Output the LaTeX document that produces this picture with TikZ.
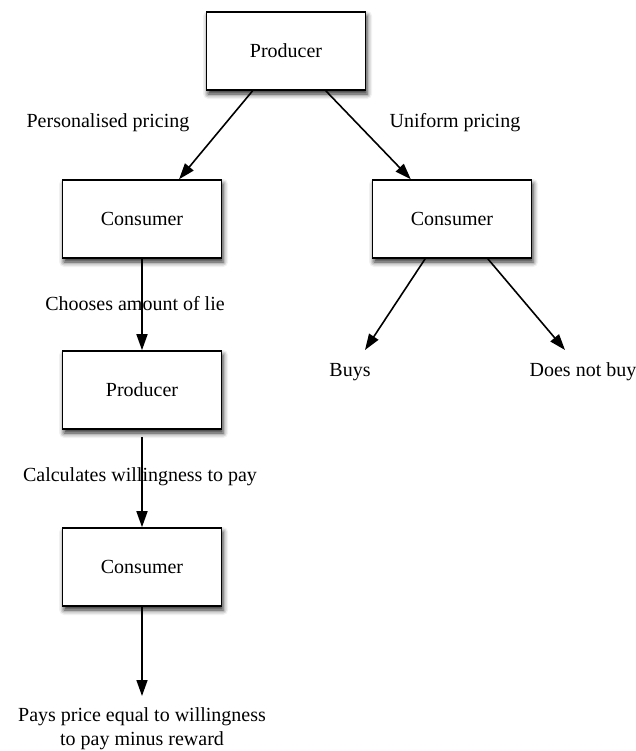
\documentclass[tikz,border=0pt]{standalone}
\usepackage{fontspec}
\setmainfont{Liberation Serif}
\usetikzlibrary{arrows.meta,shadows.blur}

\begin{document}
\begin{tikzpicture}[x=0.5pt,y=-0.5pt,
        agent/.style={draw,line width=0.8pt,fill=white,minimum width=79.5pt,minimum height=39pt,
            blur shadow={shadow xshift=0.8pt,shadow yshift=-2pt,shadow blur radius=2.5pt,shadow opacity=85}},
        move/.style={line width=0.8pt,-{Triangle[length=8pt,width=5.5pt]}}]
                \useasboundingbox (0,0) rectangle (636,751);

                \node[agent] (prodA) at (286,51) {Producer};
                \node[agent] (consA) at (142,219) {Consumer};
                \node[agent] (consB) at (452,219) {Consumer};
                \node[agent] (prodB) at (142,390) {Producer};
                \node[agent] (consC) at (142,567) {Consumer};

                \node (personal) at (108,123) {Personalised pricing};
                \node (uniform) at (455,123) {Uniform pricing};
                \node (buys) at (350,372) {Buys};
                \node (nobuy) at (583,372) {Does not buy};
                \node[align=center] (pays) at (142,729) {Pays price equal to willingness\\to pay minus reward};

                \coordinate (buysend) at (365,350);
                \coordinate (nobuyend) at (565,350);
                \coordinate (paysend) at (142,696);

                \draw[move] (prodA.230) -- (consA.47);
                \draw[move] (prodA.315) -- (consB.136);
                \draw[move] (consB.236) -- (buysend);
                \draw[move] (consB.312) -- (nobuyend);

                \draw[move] (consA.south) -- (prodB.north);
                \draw[move] (prodB.south) ++(0,7) -- (consC.north);
                \draw[move] (consC.south) -- (paysend);

                \node (lie) at (135,304) {Chooses amount of lie};
                \node (wtp) at (140,477) {Calculates willingness to pay};
            \end{tikzpicture}
\end{document}
